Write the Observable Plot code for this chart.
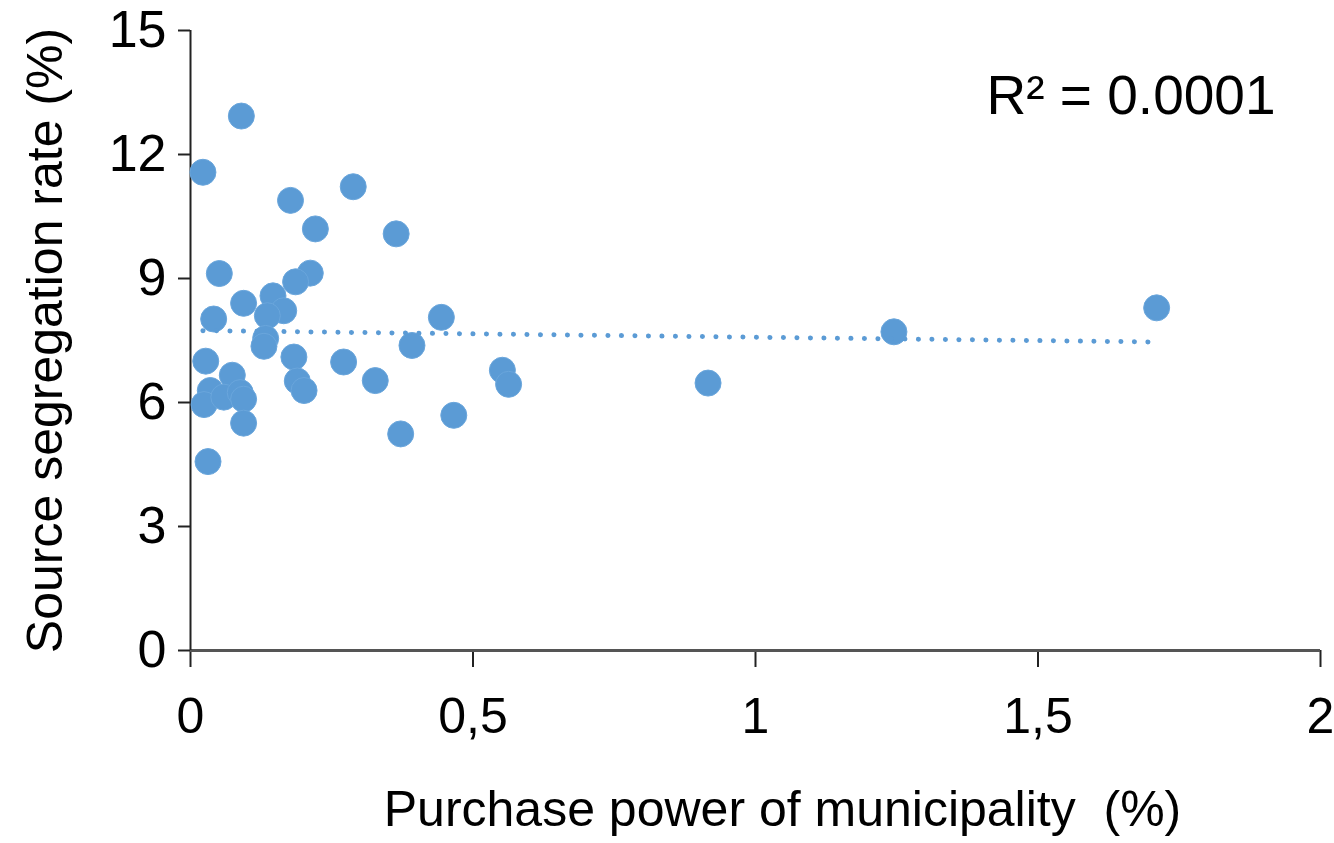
<!DOCTYPE html>
<html>
<head>
<meta charset="utf-8">
<script src="https://cdn.jsdelivr.net/npm/d3@7"></script>
<script src="https://cdn.jsdelivr.net/npm/@observablehq/plot@0.6"></script>
<style>
  html, body { margin: 0; padding: 0; background: #fff; }
  #chart svg { display: block; }
</style>
</head>
<body>
<div id="chart"></div>
<script>
// Purchase power share of each municipality (%)
const purchasePower = [
  0.090, 0.022, 0.177, 0.221, 0.288, 0.364, 0.051, 0.212, 0.186, 0.094,
  0.146, 0.165, 0.136, 0.041, 0.444, 0.133, 0.130, 0.392, 0.183, 0.027,
  0.271, 0.327, 0.074, 0.189, 0.201, 0.035, 0.024, 0.059, 0.088, 0.094,
  0.094, 0.031, 0.372, 0.466, 0.552, 0.563, 0.916, 1.245, 1.710
];
// Source segregation rate of each municipality (%)
const segregationRate = [
  12.93, 11.57, 10.89, 10.20, 11.22, 10.08, 9.12, 9.13, 8.92, 8.40,
  8.58, 8.22, 8.10, 8.02, 8.06, 7.55, 7.36, 7.38, 7.10, 7.00,
  6.98, 6.53, 6.66, 6.52, 6.29, 6.29, 5.95, 6.13, 6.24, 6.08,
  5.50, 4.57, 5.24, 5.69, 6.78, 6.44, 6.47, 7.71, 8.29
];
const xTicks = [0, 0.5, 1, 1.5, 2];
const yTicks = [0, 3, 6, 9, 12, 15];
const r2Label = "R² = 0.0001";
const xLabel = "Purchase power of municipality  (%)";
const yLabel = "Source segregation rate (%)";

const data = purchasePower.map((x, i) => ({x, y: segregationRate[i]}));

const blue = "#5b9bd5";
const font = "'Liberation Sans', Arial, sans-serif";

const chart = Plot.plot({
  width: 1334,
  height: 843,
  marginLeft: 190,
  marginRight: 14,
  marginTop: 30,
  marginBottom: 193,
  style: {fontFamily: font, background: "#fff", color: "#000", overflow: "visible"},
  x: {domain: [0, 2], ticks: xTicks},
  y: {domain: [0, 15], ticks: yTicks},
  marks: [
    Plot.axisY({
      ticks: yTicks, tickSize: 12, tickPadding: 12, fontSize: 52,
      stroke: "#222", strokeWidth: 2, label: null, color: "#000"
    }),
    Plot.axisX({
      ticks: xTicks, tickSize: 17, tickPadding: 30, fontSize: 50,
      stroke: "#222", strokeWidth: 2, label: null,
      tickFormat: d => String(d).replace(".", ",")
    }),
    Plot.ruleY([0], {stroke: "#555", strokeWidth: 3}),
    Plot.ruleX([0], {stroke: "#222", strokeWidth: 2}),
    Plot.dot(data, {x: "x", y: "y", r: 13, fill: blue, stroke: "#6aa6dc", strokeWidth: 1}),
    Plot.linearRegressionY(data, {
      x: "x", y: "y", ci: 0, stroke: blue, strokeWidth: 5,
      strokeDasharray: "0.1,13.4", strokeLinecap: "round"
    }),
    Plot.text([r2Label], {
      text: d => d, frameAnchor: "top-right", textAnchor: "end",
      dx: -45, dy: 44, fontSize: 55, fill: "#000"
    }),
    Plot.text([xLabel], {
      text: d => d, frameAnchor: "bottom", dx: 27, dy: 175, fontSize: 50, fill: "#000"
    }),
    Plot.text([yLabel], {
      text: d => d, frameAnchor: "left", textAnchor: "middle",
      dx: -145, rotate: -90, fontSize: 50, fill: "#000"
    })
  ]
});

document.getElementById("chart").appendChild(chart);
</script>
</body>
</html>
